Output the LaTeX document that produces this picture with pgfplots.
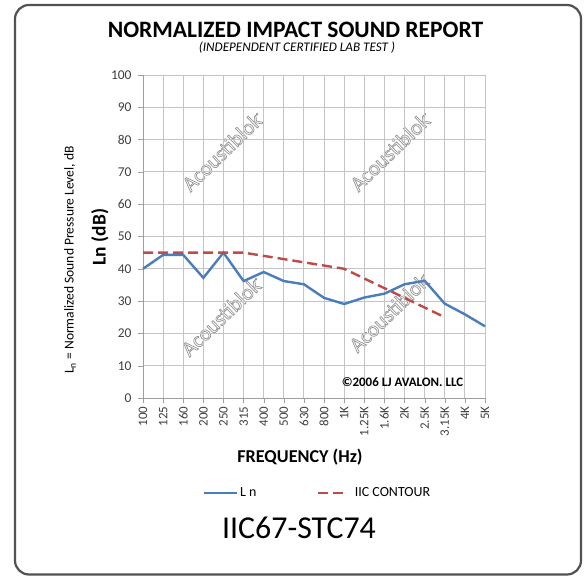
\documentclass[border=0pt]{standalone}
\usepackage{fontspec}
\setmainfont{Carlito}
\usepackage{pgfplots}
\pgfplotsset{compat=1.18}
\definecolor{lnblue}{HTML}{4A7EBB}
\definecolor{iicred}{HTML}{BE4B48}
\definecolor{gridgray}{HTML}{C4C4C4}
\definecolor{ticktext}{HTML}{404040}
\definecolor{wm}{HTML}{959595}
\pgfplotsset{
  lnlegend/.style={legend image code/.code={\draw[##1] (0bp,0bp) -- (33bp,0bp);}},
  iiclegend/.style={legend image code/.code={\draw[##1] (0bp,0bp) -- (28bp,0bp); \path (34bp,0bp);}},
}
\newcommand{\outlined}[1]{\special{pdf:code 1 Tr 0.7 w}#1\special{pdf:code 0 Tr}}
\begin{document}
\begin{tikzpicture}[x=1bp,y=1bp]
\path[fill=white] (0,0) rectangle (584,577);
\draw[line width=2.2bp, draw=black!68, rounded corners=14bp] (15,2.5) rectangle (581,572);
% titles
\node at (295.5,547) {\fontsize{23.6}{26}\selectfont\bfseries NORMALIZED IMPACT SOUND REPORT};
\node at (297,529) {\fontsize{13.2}{15}\selectfont\itshape (INDEPENDENT CERTIFIED LAB TEST )};
\node[rotate=90] at (70,317) {\fontsize{13.6}{15}\selectfont L\textsubscript{n} = Normalized Sound Pressure Level, dB};
\node[rotate=90] at (100,340) {\fontsize{19.5}{21}\selectfont\bfseries Ln (dB)};
\node at (300,120) {\fontsize{18.2}{20}\selectfont\bfseries FREQUENCY (Hz)};
\node at (299,49) {\fontsize{32}{36}\selectfont IIC67-STC74};
% watermarks
\foreach \p in {(223,426),(391,426),(222,261),(390,265)}{
  \node[rotate=44, text=wm] at \p {\fontsize{21.5}{23}\selectfont\outlined{Acoustiblok\textsuperscript{\tiny ®}}};
}
\begin{axis}[
  at={(143bp,179bp)}, anchor=south west,
  scale only axis, width=342bp, height=323bp,
  xmin=0, xmax=17, ymin=0, ymax=100,
  xtick={0,...,17},
  xticklabels={100,125,160,200,250,315,400,500,630,800,1K,1.25K,1.6K,2K,2.5K,3.15K,4K,5K},
  ytick={0,10,...,100},
  axis lines=left,
  axis line style={draw=gray!75, -},
  grid=major,
  grid style={gridgray, line width=0.9bp},
  tick align=outside,
  major tick length=5bp,
  tick style={gray!75},
  xticklabel style={rotate=90, anchor=east, font=\fontsize{13}{14}\selectfont, text=ticktext},
  yticklabel style={font=\fontsize{13.5}{14}\selectfont, text=ticktext, xshift=-3bp},
  /pgf/number format/assume math mode=true,
  clip=false,
  legend columns=2,
  legend style={at={(0.51,-0.294)}, anchor=center, draw=none, fill=none,
    font=\fontsize{14}{16}\selectfont, cells={anchor=west},
    /tikz/every even column/.append style={column sep=58bp}},
]
\addplot[lnblue, line width=2.4bp, lnlegend] coordinates {
(0,40) (1,44.3) (2,44.3) (3,37.2) (4,45) (5,36.2) (6,39) (7,36.2) (8,35.2) (9,31)
(10,29.1) (11,31.1) (12,32.3) (13,35.2) (14,36.3) (15,29.2) (16,25.9) (17,22.2)};
\addlegendentry{L n}
\addplot[iicred, line width=2.4bp, dash pattern=on 10bp off 5bp, iiclegend] coordinates {
(0,45) (1,45) (2,45) (3,45) (4,45) (5,45) (6,44) (7,43) (8,42) (9,41)
(10,40) (11,37) (12,34) (13,31) (14,28) (15,25)};
\addlegendentry{IIC CONTOUR}
\node[font=\fontsize{13}{14}\selectfont\bfseries] at (axis cs:12.9,5) {©2006 LJ AVALON. LLC};
\end{axis}
\end{tikzpicture}
\end{document}
